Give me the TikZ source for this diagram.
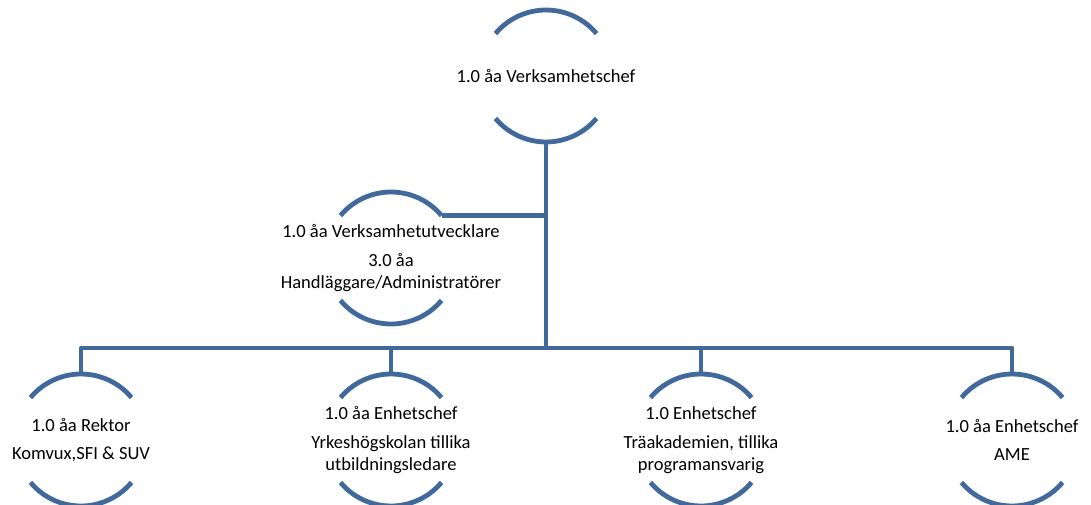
\documentclass[tikz,border=0pt]{standalone}
\usepackage{fontspec}
\setmainfont{Carlito}
\definecolor{orgblue}{RGB}{65,105,155}
\newcommand{\ringarcs}[1]{%
  \draw[ringline] (#1.40) arc[start angle=40,end angle=140,radius=49.5pt];
  \draw[ringline] (#1.220) arc[start angle=220,end angle=320,radius=49.5pt];}

\begin{document}
\begin{tikzpicture}[x=0.75pt,y=0.75pt,
    ring/.style={circle,minimum size=99pt,inner sep=0pt,outer sep=0pt},
    ringline/.style={orgblue,line width=3.6pt},
    link/.style={orgblue,line width=3.6pt,line join=round},
    txt/.style={align=center,inner sep=0pt,font=\fontsize{13.9}{16.5}\selectfont}]
    \useasboundingbox (0,0) rectangle (1091,504);
    \clip (0,0) rectangle (1091,504);
    % rings
    \node[ring] (chef) at (546,428) {};
    \node[ring] (utv) at (391,246) {};
    \node[ring] (rektor) at (81,64) {};
    \node[ring] (yh) at (391,64) {};
    \node[ring] (tra) at (701,64) {};
    \node[ring] (ame) at (1012,64) {};
    \foreach \n in {chef,utv,rektor,yh,tra,ame} {\ringarcs{\n}}
    % texts
    \node[txt] (chef-t) at (chef) {1.0 åa Verksamhetschef};
    \node[txt] (utv-t) at (utv) {1.0 åa Verksamhetutvecklare\\[5pt] 3.0 åa\\ Handläggare/Administratörer};
    \node[txt] (rektor-t) at (rektor) {1.0 åa Rektor\\[5pt] Komvux,SFI \& SUV};
    \node[txt] (yh-t) at (yh) {1.0 åa Enhetschef\\[5pt] Yrkeshögskolan tillika\\ utbildningsledare};
    \node[txt] (tra-t) at (tra) {1.0 Enhetschef\\[5pt] Träakademien, tillika\\ programansvarig};
    \node[txt] (ame-t) at (ame) {1.0 åa Enhetschef\\[5pt] AME};
    % lines
    \coordinate (bus) at (546,156);
    \draw[link] (chef.south) -- (bus);
    \draw[link] (utv.40) -- (utv.40 -| chef.south);
    \draw[link] (rektor.north) |- (bus) -| (ame.north);
    \draw[link] (yh.north) -- (yh.north |- bus);
    \draw[link] (tra.north) -- (tra.north |- bus);
\end{tikzpicture}
\end{document}
